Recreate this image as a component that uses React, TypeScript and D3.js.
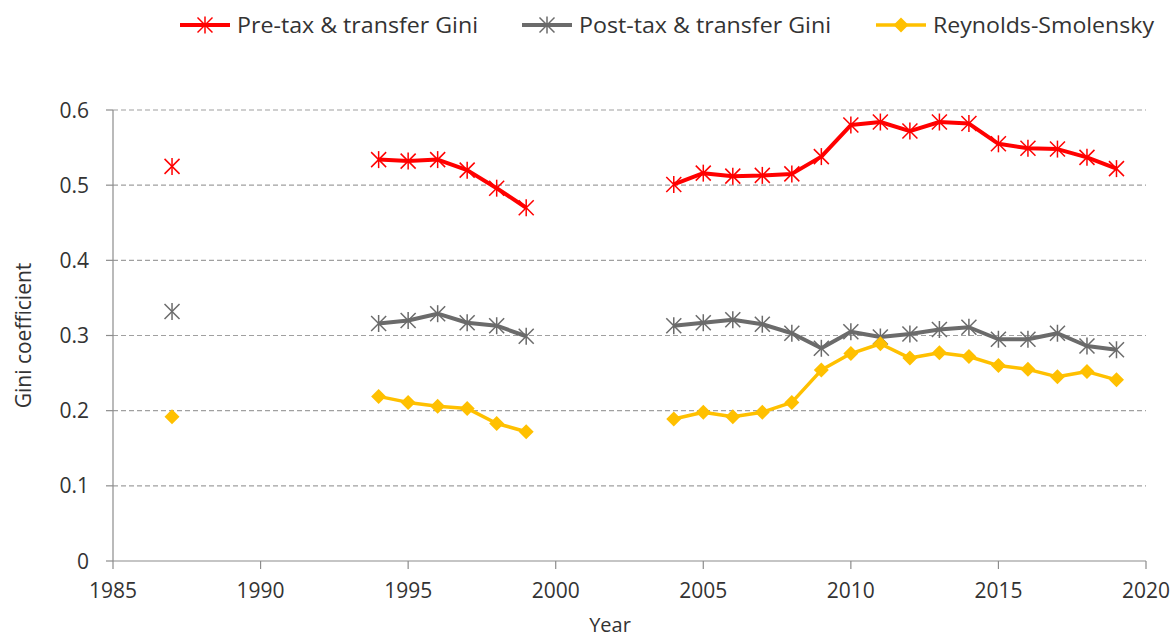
import React from 'react';
import * as d3 from 'd3';

const years = [1987, 1994, 1995, 1996, 1997, 1998, 1999, 2004, 2005, 2006, 2007, 2008, 2009, 2010, 2011, 2012, 2013, 2014, 2015, 2016, 2017, 2018, 2019];
const preTax = [0.525, 0.534, 0.532, 0.534, 0.52, 0.496, 0.47, 0.501, 0.516, 0.512, 0.513, 0.515, 0.538, 0.58, 0.584, 0.572, 0.584, 0.582, 0.555, 0.549, 0.548, 0.537, 0.522];
const postTax = [0.332, 0.316, 0.32, 0.329, 0.317, 0.313, 0.299, 0.313, 0.317, 0.321, 0.315, 0.303, 0.283, 0.305, 0.298, 0.302, 0.308, 0.311, 0.295, 0.295, 0.303, 0.286, 0.281];
const reynolds = [0.192, 0.219, 0.211, 0.206, 0.203, 0.183, 0.172, 0.189, 0.198, 0.192, 0.198, 0.211, 0.254, 0.276, 0.289, 0.27, 0.277, 0.272, 0.26, 0.255, 0.245, 0.252, 0.241];

const xTicks = [1985, 1990, 1995, 2000, 2005, 2010, 2015, 2020];
const yTicks = [0, 0.1, 0.2, 0.3, 0.4, 0.5, 0.6];

const seriesList = [
  { name: 'Pre-tax & transfer Gini', values: preTax, color: '#ff0000', marker: 'star', width: 4 },
  { name: 'Post-tax & transfer Gini', values: postTax, color: '#6b6b6b', marker: 'star', width: 4 },
  { name: 'Reynolds-Smolensky', values: reynolds, color: '#ffc000', marker: 'diamond', width: 3.5 },
];

const W = 1175;
const H = 639;
const margin = { left: 113, right: 29, top: 110, bottom: 78 };
const font = "'Open Sans', sans-serif";
const textColor = '#333333';

// split into runs of consecutive years so gaps are not joined
function segments(values: number[]) {
  const out: { year: number; v: number }[][] = [];
  let cur: { year: number; v: number }[] = [];
  years.forEach((yr, i) => {
    if (i > 0 && yr - years[i - 1] > 1) {
      out.push(cur);
      cur = [];
    }
    cur.push({ year: yr, v: values[i] });
  });
  out.push(cur);
  return out;
}

function Marker({ type, x, y, color }: { type: string; x: number; y: number; color: string }) {
  if (type === 'diamond') {
    const s = 7.5;
    return <path d={`M${x},${y - s}L${x + s},${y}L${x},${y + s}L${x - s},${y}Z`} fill={color} />;
  }
  const s = 7.5;
  return (
    <g stroke={color} strokeWidth={1.5}>
      <line x1={x - s} y1={y - s} x2={x + s} y2={y + s} />
      <line x1={x - s} y1={y + s} x2={x + s} y2={y - s} />
      <line x1={x} y1={y - s - 1} x2={x} y2={y + s + 1} />
    </g>
  );
}

export default function App() {
  const x = d3.scaleLinear().domain([1985, 2020]).range([margin.left, W - margin.right]);
  const y = d3.scaleLinear().domain([0, 0.6]).range([H - margin.bottom, margin.top]);
  const line = d3.line<{ year: number; v: number }>().x(d => x(d.year)).y(d => y(d.v));

  const legendPos = [180, 522, 876];
  const legendLen = [241, 252, 221];

  return (
    <svg width={W} height={H} style={{ position: 'absolute', left: 0, top: 0 }} fontFamily={font}>
      <rect width={W} height={H} fill="#fff" />
      {/* gridlines */}
      {yTicks.filter(t => t > 0).map(t => (
        <line key={t} x1={x(1985)} x2={x(2020)} y1={y(t)} y2={y(t)} stroke="#a0a0a0" strokeWidth={1.2} strokeDasharray="5,3" />
      ))}
      {/* axes */}
      <line x1={x(1985)} x2={x(1985)} y1={y(0)} y2={y(0.6)} stroke="#8c8c8c" strokeWidth={1.2} />
      <line x1={x(1985)} x2={x(2020)} y1={y(0)} y2={y(0)} stroke="#8c8c8c" strokeWidth={1.2} />
      {yTicks.map(t => (
        <g key={t}>
          <line x1={x(1985) - 7} x2={x(1985)} y1={y(t)} y2={y(t)} stroke="#8c8c8c" strokeWidth={1.2} />
          <text x={x(1985) - 24} y={y(t)} dy="0.36em" textAnchor="end" fontSize={21} fill={textColor}>
            {d3.format('')(+t.toFixed(1))}
          </text>
        </g>
      ))}
      {xTicks.map(t => (
        <g key={t}>
          <line x1={x(t)} x2={x(t)} y1={y(0)} y2={y(0) + 8} stroke="#8c8c8c" strokeWidth={1.2} />
          <text x={x(t)} y={y(0) + 37} textAnchor="middle" fontSize={21} fill={textColor}>{t}</text>
        </g>
      ))}
      <text x={610} y={632} textAnchor="middle" fontSize={20} fill={textColor}>Year</text>
      <text transform={`translate(31,${(y(0) + y(0.6)) / 2}) rotate(-90)`} textAnchor="middle" fontSize={21} fill={textColor}>Gini coefficient</text>

      {/* series */}
      {seriesList.map(s => (
        <g key={s.name}>
          {segments(s.values).map((seg, i) => (
            seg.length > 1 ? <path key={i} d={line(seg) || ''} fill="none" stroke={s.color} strokeWidth={s.width} strokeLinejoin="round" /> : null
          ))}
          {years.map((yr, i) => (
            <Marker key={yr} type={s.marker} x={x(yr)} y={y(s.values[i])} color={s.color} />
          ))}
        </g>
      ))}

      {/* legend */}
      {seriesList.map((s, i) => (
        <g key={s.name}>
          <line x1={legendPos[i]} x2={legendPos[i] + 50} y1={25} y2={25} stroke={s.color} strokeWidth={s.width} />
          <Marker type={s.marker} x={legendPos[i] + 25} y={25} color={s.color} />
          <text x={legendPos[i] + 57} y={25} dy="0.36em" fontSize={22} fill={textColor}
            textLength={legendLen[i]} lengthAdjust="spacingAndGlyphs">{s.name}</text>
        </g>
      ))}
    </svg>
  );
}
